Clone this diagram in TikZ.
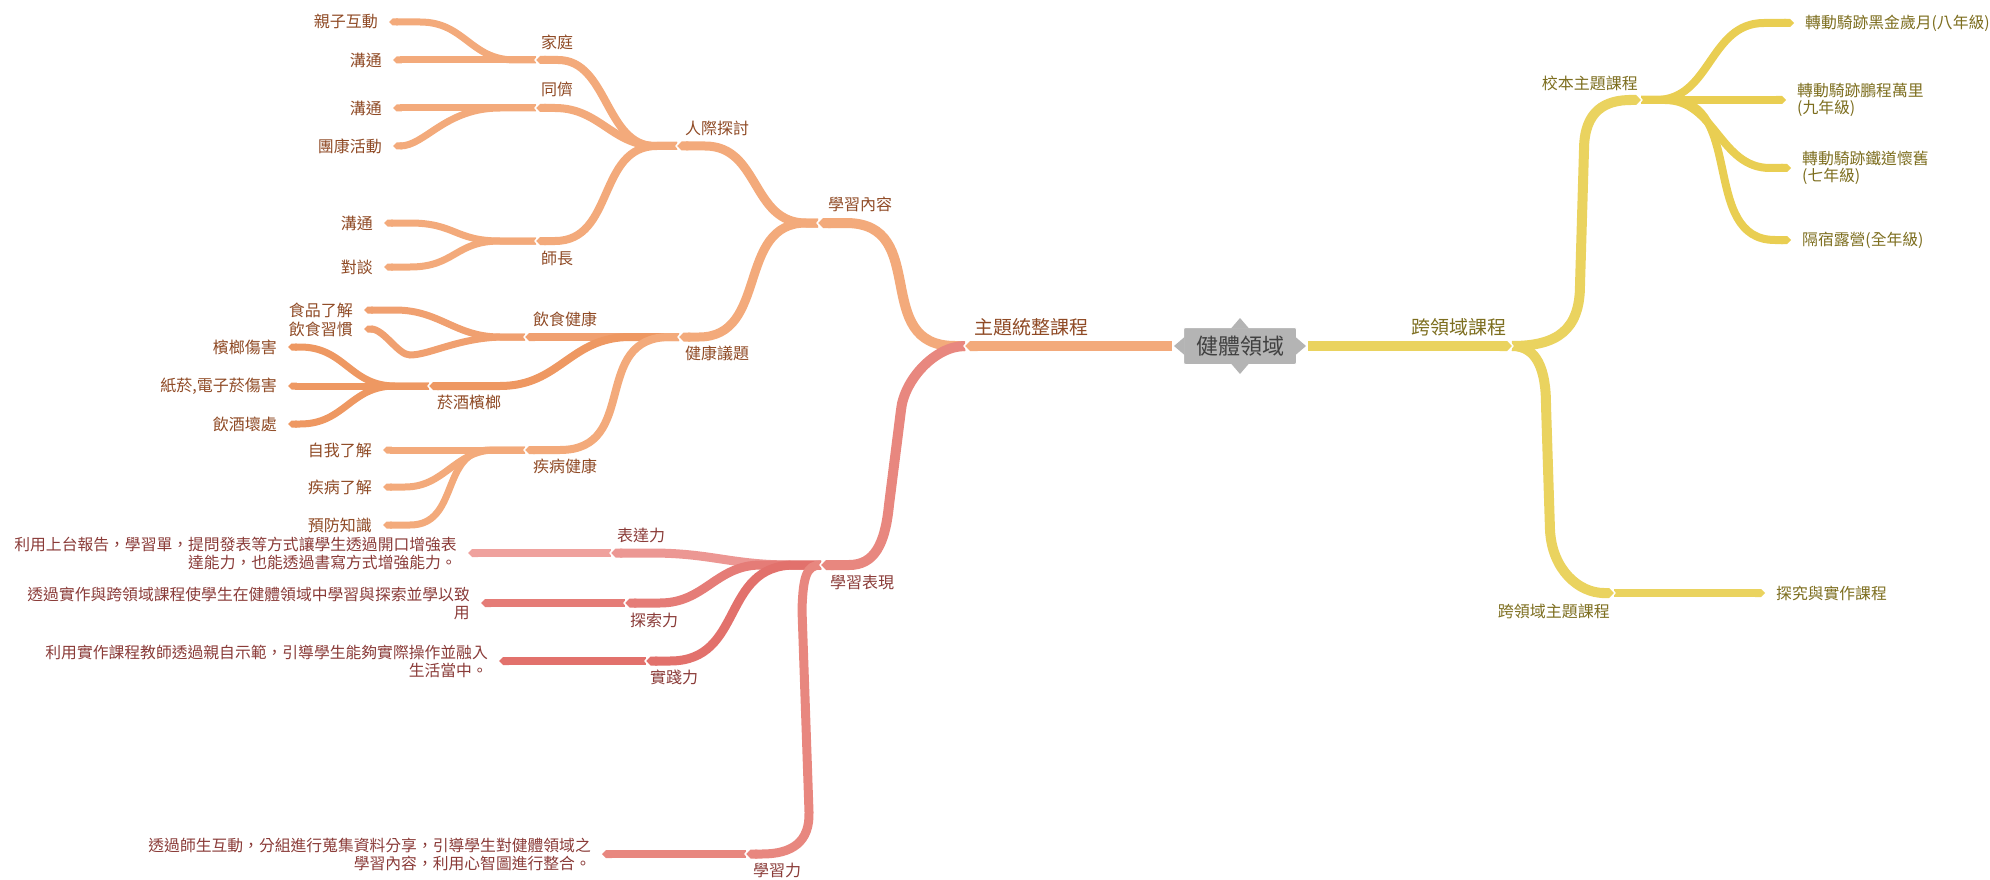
\documentclass[tikz,border=0pt]{standalone}
\usepackage{fontspec}
\setmainfont{Noto Sans CJK TC}
\usetikzlibrary{positioning,calc,arrows.meta}

\newcommand{\fsz}[2]{\fontsize{#1}{#2}\selectfont}

\definecolor{orA}{HTML}{F3AA7B}
\definecolor{orB}{HTML}{F0A070}
\definecolor{orC}{HTML}{EE9862}
\definecolor{rdA}{HTML}{E8877F}
\definecolor{rdB}{HTML}{EC9793}
\definecolor{rdL}{HTML}{EFA19D}
\definecolor{rdC}{HTML}{E57C77}
\definecolor{rdD}{HTML}{E2716C}
\definecolor{ylA}{HTML}{EAD35F}
\definecolor{ylB}{HTML}{E9CE52}
\definecolor{txOr}{HTML}{8F4A25}
\definecolor{txRd}{HTML}{8A3B38}
\definecolor{txYl}{HTML}{7D6E1F}
\definecolor{rootbg}{HTML}{B4B4B4}

\tikzset{
	w1/.style={line width=10pt},
	w2/.style={line width=9pt},
	w3/.style={line width=8pt},
	w4/.style={line width=7pt},
	pointy/.style={-{Triangle Cap}},
	notch/.style={white, line width=1.3pt},
	lab/.style={inner sep=1pt, font=\fsz{16}{18}},
	leaf/.style={anchor=east, inner xsep=11pt, inner ysep=0pt, align=right, font=\fsz{16}{18}},
	leafr/.style={anchor=west, inner xsep=11pt, inner ysep=0pt, align=left, font=\fsz{15.8}{17.5}},
	root/.style={fill=rootbg, draw=white, line width=1pt, rounded corners=2pt,
		minimum width=113pt, minimum height=37pt, inner sep=0pt, text=black!75, font=\fsz{22}{24}}
}

\begin{document}
\begin{tikzpicture}[x=1pt, y=-1pt]
	\useasboundingbox (0,0) rectangle (1990,880);

	% notches of the topics
	\coordinate (zt)  at (965,346);
	\coordinate (kly) at (1512,346);
	\coordinate (nr)  at (818,223);
	\coordinate (bx)  at (821,565);
	\coordinate (xb)  at (1641,100);
	\coordinate (klz) at (1614,593);
	\coordinate (rj)  at (677,146);
	\coordinate (jk)  at (679,337);
	\coordinate (bd)  at (611,553);
	\coordinate (ts)  at (625,603);
	\coordinate (sj)  at (646,661);
	\coordinate (xx)  at (746,854);
	\coordinate (jt)  at (536,60);
	\coordinate (tc)  at (536,108);
	\coordinate (ss)  at (536,241);
	\coordinate (ys)  at (525,337);
	\coordinate (yj)  at (429,386);
	\coordinate (jb)  at (525,450);

	\node[root] (root) at (1240,346) {健體領域};

	% leaves
	\node[leaf, txOr] (qz)  at (389,22)  {親子互動};
	\node[leaf, txOr] (gt1) at (393,60)  {溝通};
	\node[leaf, txOr] (gt2) at (393,108) {溝通};
	\node[leaf, txOr] (tk)  at (393,146) {團康活動};
	\node[leaf, txOr] (gt3) at (384,223) {溝通};
	\node[leaf, txOr] (dt)  at (384,267) {對談};
	\node[leaf, txOr] (sp)  at (364,310) {食品了解};
	\node[leaf, txOr] (yx)  at (364,329) {飲食習慣};
	\node[leaf, txOr] (bl)  at (288,347) {檳榔傷害};
	\node[leaf, txOr] (zy)  at (288,386) {紙菸,電子菸傷害};
	\node[leaf, txOr] (yjh) at (288,424) {飲酒壞處};
	\node[leaf, txOr] (zw)  at (383,450) {自我了解};
	\node[leaf, txOr] (jl)  at (383,487) {疾病了解};
	\node[leaf, txOr] (yf)  at (383,525) {預防知識};

	\node[leaf, txRd, font=\fsz{15.8}{18}] (bdt) at (468,553) {利用上台報告，學習單，提問發表等方式讓學生透過開口增強表\\達能力，也能透過書寫方式增強能力。};
	\node[leaf, txRd, font=\fsz{15.8}{18}] (tst) at (481,603) {透過實作與跨領域課程使學生在健體領域中學習與探索並學以致\\用};
	\node[leaf, txRd, font=\fsz{15.8}{18}] (sjt) at (499,661) {利用實作課程教師透過親自示範，引導學生能夠實際操作並融入\\生活當中。};
	\node[leaf, txRd, font=\fsz{15.8}{18}] (xxt) at (602,854) {透過師生互動，分組進行蒐集資料分享，引導學生對健體領域之\\學習內容，利用心智圖進行整合。};

	\node[leafr, txYl] (b1) at (1794,23)  {轉動騎跡黑金歲月(八年級)};
	\node[leafr, txYl] (b2) at (1786,100) {轉動騎跡鵬程萬里\\(九年級)};
	\node[leafr, txYl] (b3) at (1791,168) {轉動騎跡鐵道懷舊\\(七年級)};
	\node[leafr, txYl] (b4) at (1791,240) {隔宿露營(全年級)};
	\node[leafr, txYl] (tj) at (1765,593) {探究與實作課程};

	% labels of the topics
	\node[lab, txOr, font=\fsz{19}{22}, above right=9pt and 8pt of zt] (ztl) {主題統整課程};
	\node[lab, txYl, font=\fsz{19}{22}, above left=9pt and 4pt of kly] (klyl) {跨領域課程};
	\node[lab, txOr, above right=10pt and 9pt of nr] (nrl) {學習內容};
	\node[lab, txRd, below right=9pt and 8pt of bx] (bxl) {學習表現};
	\node[lab, txYl, above left=8pt and 2pt of xb] (xbl) {校本主題課程};
	\node[lab, txYl, below left=10pt and 3pt of klz] (klzl) {跨領域主題課程};
	\node[lab, txOr, above right=9pt and 7pt of rj] (rjl) {人際探討};
	\node[lab, txOr, below right=8pt and 5pt of jk] (jkl) {健康議題};
	\node[lab, txRd, above right=9pt and 5pt of bd] (bdl) {表達力};
	\node[lab, txRd, below right=9pt and 4pt of ts] (tsl) {探索力};
	\node[lab, txRd, below right=8pt and 3pt of sj] (sjl) {實踐力};
	\node[lab, txRd, below right=8pt and 6pt of xx] (xxl) {學習力};
	\node[lab, txOr, above right=9pt and 4pt of jt] (jtl) {家庭};
	\node[lab, txOr, above right=10pt and 4pt of tc] (tcl) {同儕};
	\node[lab, txOr, below right=9pt and 4pt of ss] (ssl) {師長};
	\node[lab, txOr, above right=9pt and 7pt of ys] (ysl) {飲食健康};
	\node[lab, txOr, below right=8pt and 7pt of yj] (yjl) {菸酒檳榔};
	\node[lab, txOr, below right=8pt and 7pt of jb] (jbl) {疾病健康};

	% main branches
	\draw[w1, orA, pointy] ([xshift=-11]root.west) -- (zt);
	\draw[w1, ylA, pointy] ([xshift=11]root.east) -- (kly);

	\draw[w1, orA, pointy] (zt) -- ++(-10,0) .. controls +(-85,0) and +(85,0) .. ([xshift=28]nr) -- (nr);
	\draw[w1, rdA, pointy] (zt) .. controls +(-30,0) and +(3,-30) .. (901,410) -- (889,505)
		.. controls +(-4,40) and +(25,0) .. ([xshift=28]bx) -- (bx);

	\draw[w1, ylA, pointy] (kly) .. controls +(45,0) and +(0,45) .. (1580,285) -- (1584,150)
		.. controls +(0,-40) and +(-35,0) .. (xb);
	\draw[w1, ylA, pointy] (kly) .. controls +(25,0) and +(0,-35) .. (1546,405) -- (1550,530)
		.. controls +(2,40) and +(-35,0) .. (klz);

	% 學習內容
	\draw[w2, orA, pointy] (nr) -- ++(-12,0) .. controls +(-55,0) and +(55,0) .. ([xshift=28]rj) -- (rj);
	\draw[w2, orA, pointy] (nr) -- ++(-12,0) .. controls +(-70,0) and +(70,0) .. ([xshift=20]jk) -- (jk);

	\draw[w3, orA, pointy] (rj) -- ++(-22,0) .. controls +(-50,0) and +(50,0) .. ([xshift=22]jt) -- (jt);
	\draw[w3, orA, pointy] (rj) -- ++(-20,0) .. controls +(-45,0) and +(45,0) .. ([xshift=19]tc) -- (tc);
	\draw[w3, orA, pointy] (rj) -- ++(-20,0) .. controls +(-60,0) and +(60,0) .. ([xshift=19]ss) -- (ss);

	\draw[w4, orA, pointy] (jt) -- ++(-21,0) .. controls +(-45,0) and +(45,0) .. ([xshift=31]qz.east) -- (qz.east);
	\draw[w4, orA, pointy] (jt) -- (gt1.east);
	\draw[w4, orA, pointy] (tc) -- (gt2.east);
	\draw[w4, orA, pointy] (tc) -- ++(-36,0) .. controls +(-55,0) and +(25,0) .. ([xshift=7]tk.east) -- (tk.east);
	\draw[w4, orA, pointy] (ss) -- ++(-36,0) .. controls +(-45,0) and +(45,0) .. ([xshift=26]gt3.east) -- (gt3.east);
	\draw[w4, orA, pointy] (ss) -- ++(-36,0) .. controls +(-45,0) and +(45,0) .. ([xshift=26]dt.east) -- (dt.east);

	\draw[w3, orB, pointy] (jk) -- (ys);
	\draw[w3, orC, pointy] (jk) -- ++(-49,0) .. controls +(-60,0) and +(60,0) .. ([xshift=71]yj) -- (yj);
	\draw[w3, orA, pointy] (jk) -- ++(-9,0) .. controls +(-80,0) and +(80,0) .. ([xshift=35]jb) -- (jb);

	\draw[w4, orB, pointy] (ys) -- ++(-25,0) .. controls +(-45,0) and +(45,0) .. ([xshift=31]sp.east) -- (sp.east);
	\draw[w4, orB, pointy] (ys) -- ++(-20,0) .. controls +(-45,0) and +(20,0) .. (410,355)
		.. controls +(-12,0) and +(20,0) .. (yx.east);

	\draw[w4, orC, pointy] (yj) -- ++(-34,0) .. controls +(-45,0) and +(45,0) .. ([xshift=12]bl.east) -- (bl.east);
	\draw[w4, orC, pointy] (yj) -- (zy.east);
	\draw[w4, orC, pointy] (yj) -- ++(-34,0) .. controls +(-45,0) and +(45,0) .. ([xshift=12]yjh.east) -- (yjh.east);

	\draw[w4, orA, pointy] (jb) -- (zw.east);
	\draw[w4, orA, pointy] (jb) -- ++(-30,0) .. controls +(-40,0) and +(40,0) .. ([xshift=22]jl.east) -- (jl.east);
	\draw[w4, orA, pointy] (jb) -- ++(-35,0) .. controls +(-50,0) and +(50,0) .. ([xshift=27]yf.east) -- (yf.east);

	% 學習表現
	\draw[w2, rdB, pointy] (bx) -- ++(-30,0) .. controls +(-60,0) and +(60,0) .. ([xshift=40]bd) -- (bd);
	\draw[w2, rdC, pointy] (bx) -- ++(-60,0) .. controls +(-45,0) and +(45,0) .. ([xshift=35]ts) -- (ts);
	\draw[w2, rdD, pointy] (bx) -- ++(-26,0) .. controls +(-75,0) and +(75,0) .. ([xshift=24]sj) -- (sj);
	\draw[w2, rdA, pointy] (bx) .. controls +(-14,0) and +(1,-35) .. (802,610) -- (809,812)
		.. controls +(1,30) and +(30,0) .. ([xshift=16]xx) -- (xx);

	\draw[w3, rdL, pointy] (bd) -- (bdt.east);
	\draw[w3, rdC, pointy] (ts) -- (tst.east);
	\draw[w3, rdD, pointy] (sj) -- (sjt.east);
	\draw[w3, rdA, pointy] (xx) -- (xxt.east);

	% 校本主題課程, 跨領域主題課程
	\draw[w3, ylB, pointy] (xb) -- ++(15,0) .. controls +(55,0) and +(-55,0) .. ([xshift=-30]b1.west) -- (b1.west);
	\draw[w3, ylB, pointy] (xb) -- (b2.west);
	\draw[w3, ylB, pointy] (xb) -- ++(24,0) .. controls +(50,0) and +(-50,0) .. ([xshift=-21]b3.west) -- (b3.west);
	\draw[w3, ylB, pointy] (xb) -- ++(29,0) .. controls +(75,0) and +(-75,0) .. ([xshift=-16]b4.west) -- (b4.west);
	\draw[w3, ylA, pointy] (klz) -- (tj.west);

	% points of the root
	\fill[rootbg] ([xshift=-9,yshift=-1.5]root.north) -- ([yshift=9]root.north) -- ([xshift=9,yshift=-1.5]root.north) -- cycle;
	\fill[rootbg] ([xshift=-9,yshift=1.5]root.south) -- ([yshift=-9]root.south) -- ([xshift=9,yshift=1.5]root.south) -- cycle;
	\fill[rootbg] ([xshift=1.5,yshift=9]root.west) -- ([xshift=-9]root.west) -- ([xshift=1.5,yshift=-9]root.west) -- cycle;
	\fill[rootbg] ([xshift=-1.5,yshift=9]root.east) -- ([xshift=9]root.east) -- ([xshift=-1.5,yshift=-9]root.east) -- cycle;

	% white notches
	\draw[notch] ([xshift=4,yshift=6]zt) -- ([xshift=-1]zt) -- ([xshift=4,yshift=-6]zt);
	\draw[notch] ([xshift=4,yshift=6]nr) -- ([xshift=-1]nr) -- ([xshift=4,yshift=-6]nr);
	\draw[notch] ([xshift=4,yshift=6]bx) -- ([xshift=-1]bx) -- ([xshift=4,yshift=-6]bx);
	\draw[notch] ([xshift=4,yshift=6]rj) -- ([xshift=-1]rj) -- ([xshift=4,yshift=-6]rj);
	\draw[notch] ([xshift=4,yshift=6]jk) -- ([xshift=-1]jk) -- ([xshift=4,yshift=-6]jk);
	\draw[notch] ([xshift=4,yshift=6]bd) -- ([xshift=-1]bd) -- ([xshift=4,yshift=-6]bd);
	\draw[notch] ([xshift=4,yshift=6]ts) -- ([xshift=-1]ts) -- ([xshift=4,yshift=-6]ts);
	\draw[notch] ([xshift=4,yshift=6]sj) -- ([xshift=-1]sj) -- ([xshift=4,yshift=-6]sj);
	\draw[notch] ([xshift=4,yshift=6]xx) -- ([xshift=-1]xx) -- ([xshift=4,yshift=-6]xx);
	\draw[notch] ([xshift=4,yshift=6]jt) -- ([xshift=-1]jt) -- ([xshift=4,yshift=-6]jt);
	\draw[notch] ([xshift=4,yshift=6]tc) -- ([xshift=-1]tc) -- ([xshift=4,yshift=-6]tc);
	\draw[notch] ([xshift=4,yshift=6]ss) -- ([xshift=-1]ss) -- ([xshift=4,yshift=-6]ss);
	\draw[notch] ([xshift=4,yshift=6]ys) -- ([xshift=-1]ys) -- ([xshift=4,yshift=-6]ys);
	\draw[notch] ([xshift=4,yshift=6]yj) -- ([xshift=-1]yj) -- ([xshift=4,yshift=-6]yj);
	\draw[notch] ([xshift=4,yshift=6]jb) -- ([xshift=-1]jb) -- ([xshift=4,yshift=-6]jb);
	\draw[notch] ([xshift=-4,yshift=6]kly) -- ([xshift=1]kly) -- ([xshift=-4,yshift=-6]kly);
	\draw[notch] ([xshift=-4,yshift=6]xb) -- ([xshift=1]xb) -- ([xshift=-4,yshift=-6]xb);
	\draw[notch] ([xshift=-4,yshift=6]klz) -- ([xshift=1]klz) -- ([xshift=-4,yshift=-6]klz);
\end{tikzpicture}
\end{document}
